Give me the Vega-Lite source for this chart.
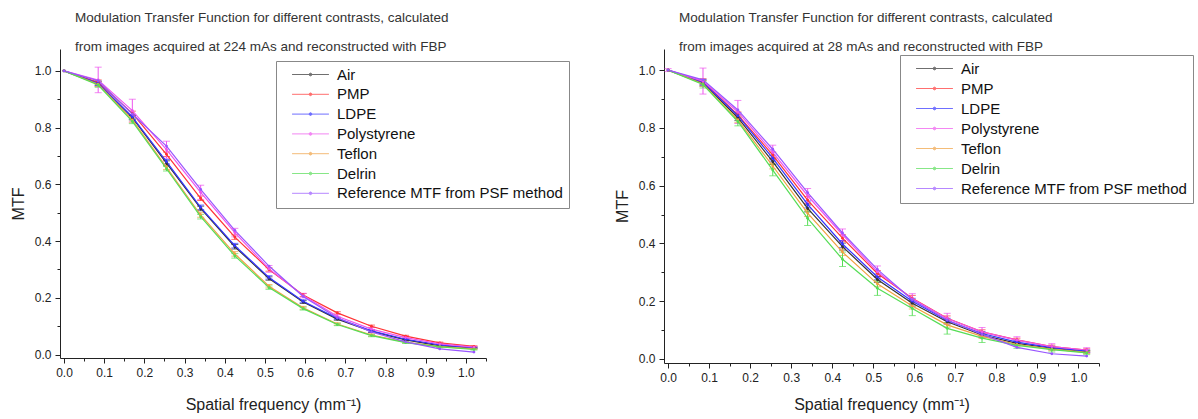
{
  "$schema": "https://vega.github.io/schema/vega-lite/v6.json",
  "background": "white",
  "padding": {"left": 10, "top": 10, "right": 2, "bottom": 5},
  "bounds": "flush",
  "spacing": 178,
  "config": {
    "font": "Liberation Sans",
    "view": {"stroke": null},
    "axis": {
      "grid": false,
      "labelFont": "Liberation Sans",
      "labelFontSize": 12,
      "labelColor": "#222",
      "titleFont": "Liberation Sans",
      "titleFontSize": 16,
      "titleFontWeight": "normal",
      "titleColor": "#222",
      "domainColor": "#222",
      "tickColor": "#222",
      "labelFlush": false,
      "labelOverlap": false
    },
    "title": {
      "font": "Liberation Sans",
      "fontSize": 13.5,
      "fontWeight": "normal",
      "color": "#333",
      "anchor": "start",
      "frame": "group",
      "baseline": "bottom",
      "lineHeight": 29,
      "dx": 15,
      "offset": -4
    }
  },
  "resolve": {"legend": {"color": "independent"}, "scale": {"color": "independent"}},
  "datasets": {
    "mas224": [
      {"series": "Air", "freq": 0, "mtf": 1.0, "err": 0},
      {"series": "Air", "freq": 0.085, "mtf": 0.955, "err": 0.008},
      {"series": "Air", "freq": 0.17, "mtf": 0.835, "err": 0.008},
      {"series": "Air", "freq": 0.255, "mtf": 0.675, "err": 0.008},
      {"series": "Air", "freq": 0.34, "mtf": 0.515, "err": 0.008},
      {"series": "Air", "freq": 0.425, "mtf": 0.38, "err": 0.008},
      {"series": "Air", "freq": 0.51, "mtf": 0.268, "err": 0.006},
      {"series": "Air", "freq": 0.595, "mtf": 0.185, "err": 0.005},
      {"series": "Air", "freq": 0.68, "mtf": 0.125, "err": 0.004},
      {"series": "Air", "freq": 0.765, "mtf": 0.082, "err": 0.004},
      {"series": "Air", "freq": 0.85, "mtf": 0.052, "err": 0.003},
      {"series": "Air", "freq": 0.935, "mtf": 0.031, "err": 0.003},
      {"series": "Air", "freq": 1.02, "mtf": 0.024, "err": 0.002},
      {"series": "PMP", "freq": 0, "mtf": 1.0, "err": 0},
      {"series": "PMP", "freq": 0.085, "mtf": 0.96, "err": 0.008},
      {"series": "PMP", "freq": 0.17, "mtf": 0.85, "err": 0.008},
      {"series": "PMP", "freq": 0.255, "mtf": 0.706, "err": 0.008},
      {"series": "PMP", "freq": 0.34, "mtf": 0.551, "err": 0.008},
      {"series": "PMP", "freq": 0.425, "mtf": 0.414, "err": 0.008},
      {"series": "PMP", "freq": 0.51, "mtf": 0.3, "err": 0.006},
      {"series": "PMP", "freq": 0.595, "mtf": 0.21, "err": 0.005},
      {"series": "PMP", "freq": 0.68, "mtf": 0.147, "err": 0.004},
      {"series": "PMP", "freq": 0.765, "mtf": 0.1, "err": 0.004},
      {"series": "PMP", "freq": 0.85, "mtf": 0.065, "err": 0.003},
      {"series": "PMP", "freq": 0.935, "mtf": 0.041, "err": 0.003},
      {"series": "PMP", "freq": 1.02, "mtf": 0.029, "err": 0.002},
      {"series": "LDPE", "freq": 0, "mtf": 1.0, "err": 0},
      {"series": "LDPE", "freq": 0.085, "mtf": 0.956, "err": 0.008},
      {"series": "LDPE", "freq": 0.17, "mtf": 0.838, "err": 0.008},
      {"series": "LDPE", "freq": 0.255, "mtf": 0.68, "err": 0.008},
      {"series": "LDPE", "freq": 0.34, "mtf": 0.519, "err": 0.008},
      {"series": "LDPE", "freq": 0.425, "mtf": 0.384, "err": 0.008},
      {"series": "LDPE", "freq": 0.51, "mtf": 0.272, "err": 0.006},
      {"series": "LDPE", "freq": 0.595, "mtf": 0.188, "err": 0.005},
      {"series": "LDPE", "freq": 0.68, "mtf": 0.128, "err": 0.004},
      {"series": "LDPE", "freq": 0.765, "mtf": 0.084, "err": 0.004},
      {"series": "LDPE", "freq": 0.85, "mtf": 0.054, "err": 0.003},
      {"series": "LDPE", "freq": 0.935, "mtf": 0.034, "err": 0.003},
      {"series": "LDPE", "freq": 1.02, "mtf": 0.024, "err": 0.002},
      {"series": "Polystyrene", "freq": 0, "mtf": 1.0, "err": 0},
      {"series": "Polystyrene", "freq": 0.085, "mtf": 0.968, "err": 0.045},
      {"series": "Polystyrene", "freq": 0.17, "mtf": 0.86, "err": 0.04},
      {"series": "Polystyrene", "freq": 0.255, "mtf": 0.722, "err": 0.03},
      {"series": "Polystyrene", "freq": 0.34, "mtf": 0.572, "err": 0.025},
      {"series": "Polystyrene", "freq": 0.425, "mtf": 0.43, "err": 0.015},
      {"series": "Polystyrene", "freq": 0.51, "mtf": 0.302, "err": 0.012},
      {"series": "Polystyrene", "freq": 0.595, "mtf": 0.208, "err": 0.008},
      {"series": "Polystyrene", "freq": 0.68, "mtf": 0.135, "err": 0.006},
      {"series": "Polystyrene", "freq": 0.765, "mtf": 0.09, "err": 0.005},
      {"series": "Polystyrene", "freq": 0.85, "mtf": 0.06, "err": 0.004},
      {"series": "Polystyrene", "freq": 0.935, "mtf": 0.038, "err": 0.003},
      {"series": "Polystyrene", "freq": 1.02, "mtf": 0.026, "err": 0.003},
      {"series": "Teflon", "freq": 0, "mtf": 1.0, "err": 0},
      {"series": "Teflon", "freq": 0.085, "mtf": 0.953, "err": 0.008},
      {"series": "Teflon", "freq": 0.17, "mtf": 0.827, "err": 0.008},
      {"series": "Teflon", "freq": 0.255, "mtf": 0.66, "err": 0.008},
      {"series": "Teflon", "freq": 0.34, "mtf": 0.492, "err": 0.008},
      {"series": "Teflon", "freq": 0.425, "mtf": 0.355, "err": 0.008},
      {"series": "Teflon", "freq": 0.51, "mtf": 0.241, "err": 0.006},
      {"series": "Teflon", "freq": 0.595, "mtf": 0.165, "err": 0.005},
      {"series": "Teflon", "freq": 0.68, "mtf": 0.108, "err": 0.004},
      {"series": "Teflon", "freq": 0.765, "mtf": 0.069, "err": 0.004},
      {"series": "Teflon", "freq": 0.85, "mtf": 0.044, "err": 0.003},
      {"series": "Teflon", "freq": 0.935, "mtf": 0.028, "err": 0.003},
      {"series": "Teflon", "freq": 1.02, "mtf": 0.02, "err": 0.002},
      {"series": "Delrin", "freq": 0, "mtf": 1.0, "err": 0},
      {"series": "Delrin", "freq": 0.085, "mtf": 0.95, "err": 0.008},
      {"series": "Delrin", "freq": 0.17, "mtf": 0.822, "err": 0.008},
      {"series": "Delrin", "freq": 0.255, "mtf": 0.655, "err": 0.008},
      {"series": "Delrin", "freq": 0.34, "mtf": 0.486, "err": 0.008},
      {"series": "Delrin", "freq": 0.425, "mtf": 0.348, "err": 0.008},
      {"series": "Delrin", "freq": 0.51, "mtf": 0.236, "err": 0.006},
      {"series": "Delrin", "freq": 0.595, "mtf": 0.162, "err": 0.005},
      {"series": "Delrin", "freq": 0.68, "mtf": 0.106, "err": 0.004},
      {"series": "Delrin", "freq": 0.765, "mtf": 0.067, "err": 0.004},
      {"series": "Delrin", "freq": 0.85, "mtf": 0.042, "err": 0.003},
      {"series": "Delrin", "freq": 0.935, "mtf": 0.027, "err": 0.003},
      {"series": "Delrin", "freq": 1.02, "mtf": 0.018, "err": 0.002},
      {"series": "Reference MTF from PSF method", "freq": 0, "mtf": 1.0, "err": 0},
      {"series": "Reference MTF from PSF method", "freq": 0.085, "mtf": 0.965, "err": 0},
      {"series": "Reference MTF from PSF method", "freq": 0.17, "mtf": 0.848, "err": 0},
      {"series": "Reference MTF from PSF method", "freq": 0.255, "mtf": 0.735, "err": 0},
      {"series": "Reference MTF from PSF method", "freq": 0.34, "mtf": 0.582, "err": 0},
      {"series": "Reference MTF from PSF method", "freq": 0.425, "mtf": 0.438, "err": 0},
      {"series": "Reference MTF from PSF method", "freq": 0.51, "mtf": 0.312, "err": 0},
      {"series": "Reference MTF from PSF method", "freq": 0.595, "mtf": 0.205, "err": 0},
      {"series": "Reference MTF from PSF method", "freq": 0.68, "mtf": 0.13, "err": 0},
      {"series": "Reference MTF from PSF method", "freq": 0.765, "mtf": 0.08, "err": 0},
      {"series": "Reference MTF from PSF method", "freq": 0.85, "mtf": 0.045, "err": 0},
      {"series": "Reference MTF from PSF method", "freq": 0.935, "mtf": 0.02, "err": 0},
      {"series": "Reference MTF from PSF method", "freq": 1.02, "mtf": 0.009, "err": 0}
    ],
    "mas28": [
      {"series": "Air", "freq": 0, "mtf": 1.0, "err": 0},
      {"series": "Air", "freq": 0.085, "mtf": 0.955, "err": 0.01},
      {"series": "Air", "freq": 0.17, "mtf": 0.835, "err": 0.01},
      {"series": "Air", "freq": 0.255, "mtf": 0.683, "err": 0.01},
      {"series": "Air", "freq": 0.34, "mtf": 0.521, "err": 0.012},
      {"series": "Air", "freq": 0.425, "mtf": 0.389, "err": 0.012},
      {"series": "Air", "freq": 0.51, "mtf": 0.275, "err": 0.01},
      {"series": "Air", "freq": 0.595, "mtf": 0.193, "err": 0.01},
      {"series": "Air", "freq": 0.68, "mtf": 0.129, "err": 0.008},
      {"series": "Air", "freq": 0.765, "mtf": 0.083, "err": 0.007},
      {"series": "Air", "freq": 0.85, "mtf": 0.054, "err": 0.006},
      {"series": "Air", "freq": 0.935, "mtf": 0.037, "err": 0.005},
      {"series": "Air", "freq": 1.02, "mtf": 0.025, "err": 0.004},
      {"series": "PMP", "freq": 0, "mtf": 1.0, "err": 0},
      {"series": "PMP", "freq": 0.085, "mtf": 0.96, "err": 0.01},
      {"series": "PMP", "freq": 0.17, "mtf": 0.845, "err": 0.01},
      {"series": "PMP", "freq": 0.255, "mtf": 0.706, "err": 0.01},
      {"series": "PMP", "freq": 0.34, "mtf": 0.55, "err": 0.012},
      {"series": "PMP", "freq": 0.425, "mtf": 0.418, "err": 0.012},
      {"series": "PMP", "freq": 0.51, "mtf": 0.296, "err": 0.01},
      {"series": "PMP", "freq": 0.595, "mtf": 0.21, "err": 0.01},
      {"series": "PMP", "freq": 0.68, "mtf": 0.141, "err": 0.008},
      {"series": "PMP", "freq": 0.765, "mtf": 0.094, "err": 0.007},
      {"series": "PMP", "freq": 0.85, "mtf": 0.066, "err": 0.006},
      {"series": "PMP", "freq": 0.935, "mtf": 0.043, "err": 0.005},
      {"series": "PMP", "freq": 1.02, "mtf": 0.031, "err": 0.004},
      {"series": "LDPE", "freq": 0, "mtf": 1.0, "err": 0},
      {"series": "LDPE", "freq": 0.085, "mtf": 0.958, "err": 0.01},
      {"series": "LDPE", "freq": 0.17, "mtf": 0.842, "err": 0.01},
      {"series": "LDPE", "freq": 0.255, "mtf": 0.695, "err": 0.01},
      {"series": "LDPE", "freq": 0.34, "mtf": 0.535, "err": 0.012},
      {"series": "LDPE", "freq": 0.425, "mtf": 0.398, "err": 0.012},
      {"series": "LDPE", "freq": 0.51, "mtf": 0.284, "err": 0.01},
      {"series": "LDPE", "freq": 0.595, "mtf": 0.2, "err": 0.01},
      {"series": "LDPE", "freq": 0.68, "mtf": 0.133, "err": 0.008},
      {"series": "LDPE", "freq": 0.765, "mtf": 0.088, "err": 0.007},
      {"series": "LDPE", "freq": 0.85, "mtf": 0.058, "err": 0.006},
      {"series": "LDPE", "freq": 0.935, "mtf": 0.039, "err": 0.005},
      {"series": "LDPE", "freq": 1.02, "mtf": 0.027, "err": 0.004},
      {"series": "Polystyrene", "freq": 0, "mtf": 1.0, "err": 0.005},
      {"series": "Polystyrene", "freq": 0.085, "mtf": 0.962, "err": 0.045},
      {"series": "Polystyrene", "freq": 0.17, "mtf": 0.855, "err": 0.04},
      {"series": "Polystyrene", "freq": 0.255, "mtf": 0.715, "err": 0.025},
      {"series": "Polystyrene", "freq": 0.34, "mtf": 0.565, "err": 0.025},
      {"series": "Polystyrene", "freq": 0.425, "mtf": 0.43, "err": 0.02},
      {"series": "Polystyrene", "freq": 0.51, "mtf": 0.302, "err": 0.02},
      {"series": "Polystyrene", "freq": 0.595, "mtf": 0.208, "err": 0.018},
      {"series": "Polystyrene", "freq": 0.68, "mtf": 0.14, "err": 0.018},
      {"series": "Polystyrene", "freq": 0.765, "mtf": 0.094, "err": 0.015},
      {"series": "Polystyrene", "freq": 0.85, "mtf": 0.065, "err": 0.012},
      {"series": "Polystyrene", "freq": 0.935, "mtf": 0.043, "err": 0.01},
      {"series": "Polystyrene", "freq": 1.02, "mtf": 0.031, "err": 0.008},
      {"series": "Teflon", "freq": 0, "mtf": 1.0, "err": 0},
      {"series": "Teflon", "freq": 0.085, "mtf": 0.953, "err": 0.01},
      {"series": "Teflon", "freq": 0.17, "mtf": 0.828, "err": 0.01},
      {"series": "Teflon", "freq": 0.255, "mtf": 0.668, "err": 0.01},
      {"series": "Teflon", "freq": 0.34, "mtf": 0.505, "err": 0.012},
      {"series": "Teflon", "freq": 0.425, "mtf": 0.37, "err": 0.012},
      {"series": "Teflon", "freq": 0.51, "mtf": 0.26, "err": 0.01},
      {"series": "Teflon", "freq": 0.595, "mtf": 0.183, "err": 0.01},
      {"series": "Teflon", "freq": 0.68, "mtf": 0.118, "err": 0.008},
      {"series": "Teflon", "freq": 0.765, "mtf": 0.078, "err": 0.007},
      {"series": "Teflon", "freq": 0.85, "mtf": 0.05, "err": 0.006},
      {"series": "Teflon", "freq": 0.935, "mtf": 0.034, "err": 0.005},
      {"series": "Teflon", "freq": 1.02, "mtf": 0.023, "err": 0.004},
      {"series": "Delrin", "freq": 0, "mtf": 1.0, "err": 0},
      {"series": "Delrin", "freq": 0.085, "mtf": 0.95, "err": 0.012},
      {"series": "Delrin", "freq": 0.17, "mtf": 0.822, "err": 0.015},
      {"series": "Delrin", "freq": 0.255, "mtf": 0.654, "err": 0.02},
      {"series": "Delrin", "freq": 0.34, "mtf": 0.487, "err": 0.025},
      {"series": "Delrin", "freq": 0.425, "mtf": 0.345, "err": 0.025},
      {"series": "Delrin", "freq": 0.51, "mtf": 0.245, "err": 0.025},
      {"series": "Delrin", "freq": 0.595, "mtf": 0.175, "err": 0.025},
      {"series": "Delrin", "freq": 0.68, "mtf": 0.106, "err": 0.02},
      {"series": "Delrin", "freq": 0.765, "mtf": 0.072, "err": 0.015},
      {"series": "Delrin", "freq": 0.85, "mtf": 0.047, "err": 0.01},
      {"series": "Delrin", "freq": 0.935, "mtf": 0.032, "err": 0.008},
      {"series": "Delrin", "freq": 1.02, "mtf": 0.021, "err": 0.006},
      {"series": "Reference MTF from PSF method", "freq": 0, "mtf": 1.0, "err": 0},
      {"series": "Reference MTF from PSF method", "freq": 0.085, "mtf": 0.966, "err": 0},
      {"series": "Reference MTF from PSF method", "freq": 0.17, "mtf": 0.862, "err": 0},
      {"series": "Reference MTF from PSF method", "freq": 0.255, "mtf": 0.726, "err": 0},
      {"series": "Reference MTF from PSF method", "freq": 0.34, "mtf": 0.576, "err": 0},
      {"series": "Reference MTF from PSF method", "freq": 0.425, "mtf": 0.436, "err": 0},
      {"series": "Reference MTF from PSF method", "freq": 0.51, "mtf": 0.31, "err": 0},
      {"series": "Reference MTF from PSF method", "freq": 0.595, "mtf": 0.205, "err": 0},
      {"series": "Reference MTF from PSF method", "freq": 0.68, "mtf": 0.135, "err": 0},
      {"series": "Reference MTF from PSF method", "freq": 0.765, "mtf": 0.085, "err": 0},
      {"series": "Reference MTF from PSF method", "freq": 0.85, "mtf": 0.04, "err": 0},
      {"series": "Reference MTF from PSF method", "freq": 0.935, "mtf": 0.018, "err": 0},
      {"series": "Reference MTF from PSF method", "freq": 1.02, "mtf": 0.01, "err": 0}
    ]
  },
  "hconcat": [
    {
      "width": 426,
      "height": 309,
      "title": {"text": ["Modulation Transfer Function for different contrasts, calculated", "from images acquired at 224 mAs and reconstructed with FBP"]},
      "data": {"name": "mas224"},
      "encoding": {
        "x": {
          "field": "freq", "type": "quantitative",
          "scale": {"domain": [-0.01, 1.05], "nice": false, "zero": false},
          "axis": {
            "title": "Spatial frequency (mm⁻¹)",
            "values": [0, 0.05, 0.1, 0.15, 0.2, 0.25, 0.3, 0.35, 0.4, 0.45, 0.5, 0.55, 0.6, 0.65, 0.7, 0.75, 0.8, 0.85, 0.9, 0.95, 1.0, 1.05],
            "labelExpr": "round(datum.value*20)%2==0 ? format(datum.value,'.1f') : ''",
            "tickSize": {"condition": {"test": "round(datum.value*20)%2==0", "value": 5}, "value": 3},
            "labelPadding": 4,
            "titlePadding": 18
          }
        },
        "y": {
          "field": "mtf", "type": "quantitative",
          "scale": {"domain": [-0.012, 1.077], "nice": false, "zero": false},
          "axis": {
            "title": "MTF",
            "values": [0, 0.1, 0.2, 0.3, 0.4, 0.5, 0.6, 0.7, 0.8, 0.9, 1.0],
            "labelExpr": "round(datum.value*10)%2==0 ? format(datum.value,'.1f') : ''",
            "tickSize": {"condition": {"test": "round(datum.value*10)%2==0", "value": 5}, "value": 3},
            "labelPadding": 4,
            "titlePadding": 8
          }
        },
        "color": {
          "field": "series", "type": "nominal",
          "scale": {
            "domain": ["Air", "PMP", "LDPE", "Polystyrene", "Teflon", "Delrin", "Reference MTF from PSF method"],
            "range": ["#333333", "#ff3333", "#3333ff", "#ee55ee", "#f0a040", "#55dd55", "#9955ff"]
          },
          "legend": {
            "title": null,
            "orient": "none",
            "legendX": 216,
            "legendY": 12,
            "symbolType": "M-4.1,0H4.1M-0.3,0A0.3,0.3,0,1,1,0.3,0A0.3,0.3,0,1,1,-0.3,0Z",
            "symbolSize": 81,
            "symbolStrokeWidth": 1,
            "symbolOffset": 21,
            "labelFont": "Liberation Sans",
            "labelFontSize": 15,
            "labelColor": "#111",
            "labelLimit": 400,
            "labelOffset": 19,
            "rowPadding": 3.8,
            "strokeColor": "#888",
            "padding": 6
          }
        }
      },
      "layer": [
        {
          "transform": [{"filter": "datum.err > 0"}],
          "mark": {"type": "errorbar", "ticks": {"size": 7}, "thickness": 1},
          "encoding": {"yError": {"field": "err"}}
        },
        {"mark": {"type": "line", "strokeWidth": 1.2}},
        {"mark": {"type": "point", "filled": true, "size": 8, "opacity": 1}}
      ]
    },
    {
      "width": 435,
      "height": 314,
      "title": {"text": ["Modulation Transfer Function for different contrasts, calculated", "from images acquired at 28 mAs and reconstructed with FBP"]},
      "data": {"name": "mas28"},
      "encoding": {
        "x": {
          "field": "freq", "type": "quantitative",
          "scale": {"domain": [-0.01, 1.05], "nice": false, "zero": false},
          "axis": {
            "title": "Spatial frequency (mm⁻¹)",
            "values": [0, 0.05, 0.1, 0.15, 0.2, 0.25, 0.3, 0.35, 0.4, 0.45, 0.5, 0.55, 0.6, 0.65, 0.7, 0.75, 0.8, 0.85, 0.9, 0.95, 1.0, 1.05],
            "labelExpr": "round(datum.value*20)%2==0 ? format(datum.value,'.1f') : ''",
            "tickSize": {"condition": {"test": "round(datum.value*20)%2==0", "value": 5}, "value": 3},
            "labelPadding": 4,
            "titlePadding": 13
          }
        },
        "y": {
          "field": "mtf", "type": "quantitative",
          "scale": {"domain": [-0.014, 1.073], "nice": false, "zero": false},
          "axis": {
            "title": "MTF",
            "values": [0, 0.1, 0.2, 0.3, 0.4, 0.5, 0.6, 0.7, 0.8, 0.9, 1.0],
            "labelExpr": "round(datum.value*10)%2==0 ? format(datum.value,'.1f') : ''",
            "tickSize": {"condition": {"test": "round(datum.value*10)%2==0", "value": 5}, "value": 3},
            "labelPadding": 4,
            "titlePadding": 8
          }
        },
        "color": {
          "field": "series", "type": "nominal",
          "scale": {
            "domain": ["Air", "PMP", "LDPE", "Polystyrene", "Teflon", "Delrin", "Reference MTF from PSF method"],
            "range": ["#333333", "#ff3333", "#3333ff", "#ee55ee", "#f0a040", "#55dd55", "#9955ff"]
          },
          "legend": {
            "title": null,
            "orient": "none",
            "legendX": 236,
            "legendY": 6,
            "symbolType": "M-4.1,0H4.1M-0.3,0A0.3,0.3,0,1,1,0.3,0A0.3,0.3,0,1,1,-0.3,0Z",
            "symbolSize": 81,
            "symbolStrokeWidth": 1,
            "symbolOffset": 21,
            "labelFont": "Liberation Sans",
            "labelFontSize": 15,
            "labelColor": "#111",
            "labelLimit": 400,
            "labelOffset": 19,
            "rowPadding": 4,
            "strokeColor": "#888",
            "padding": 6
          }
        }
      },
      "layer": [
        {
          "transform": [{"filter": "datum.err > 0"}],
          "mark": {"type": "errorbar", "ticks": {"size": 7}, "thickness": 1},
          "encoding": {"yError": {"field": "err"}}
        },
        {"mark": {"type": "line", "strokeWidth": 1.2}},
        {"mark": {"type": "point", "filled": true, "size": 8, "opacity": 1}}
      ]
    }
  ]
}
